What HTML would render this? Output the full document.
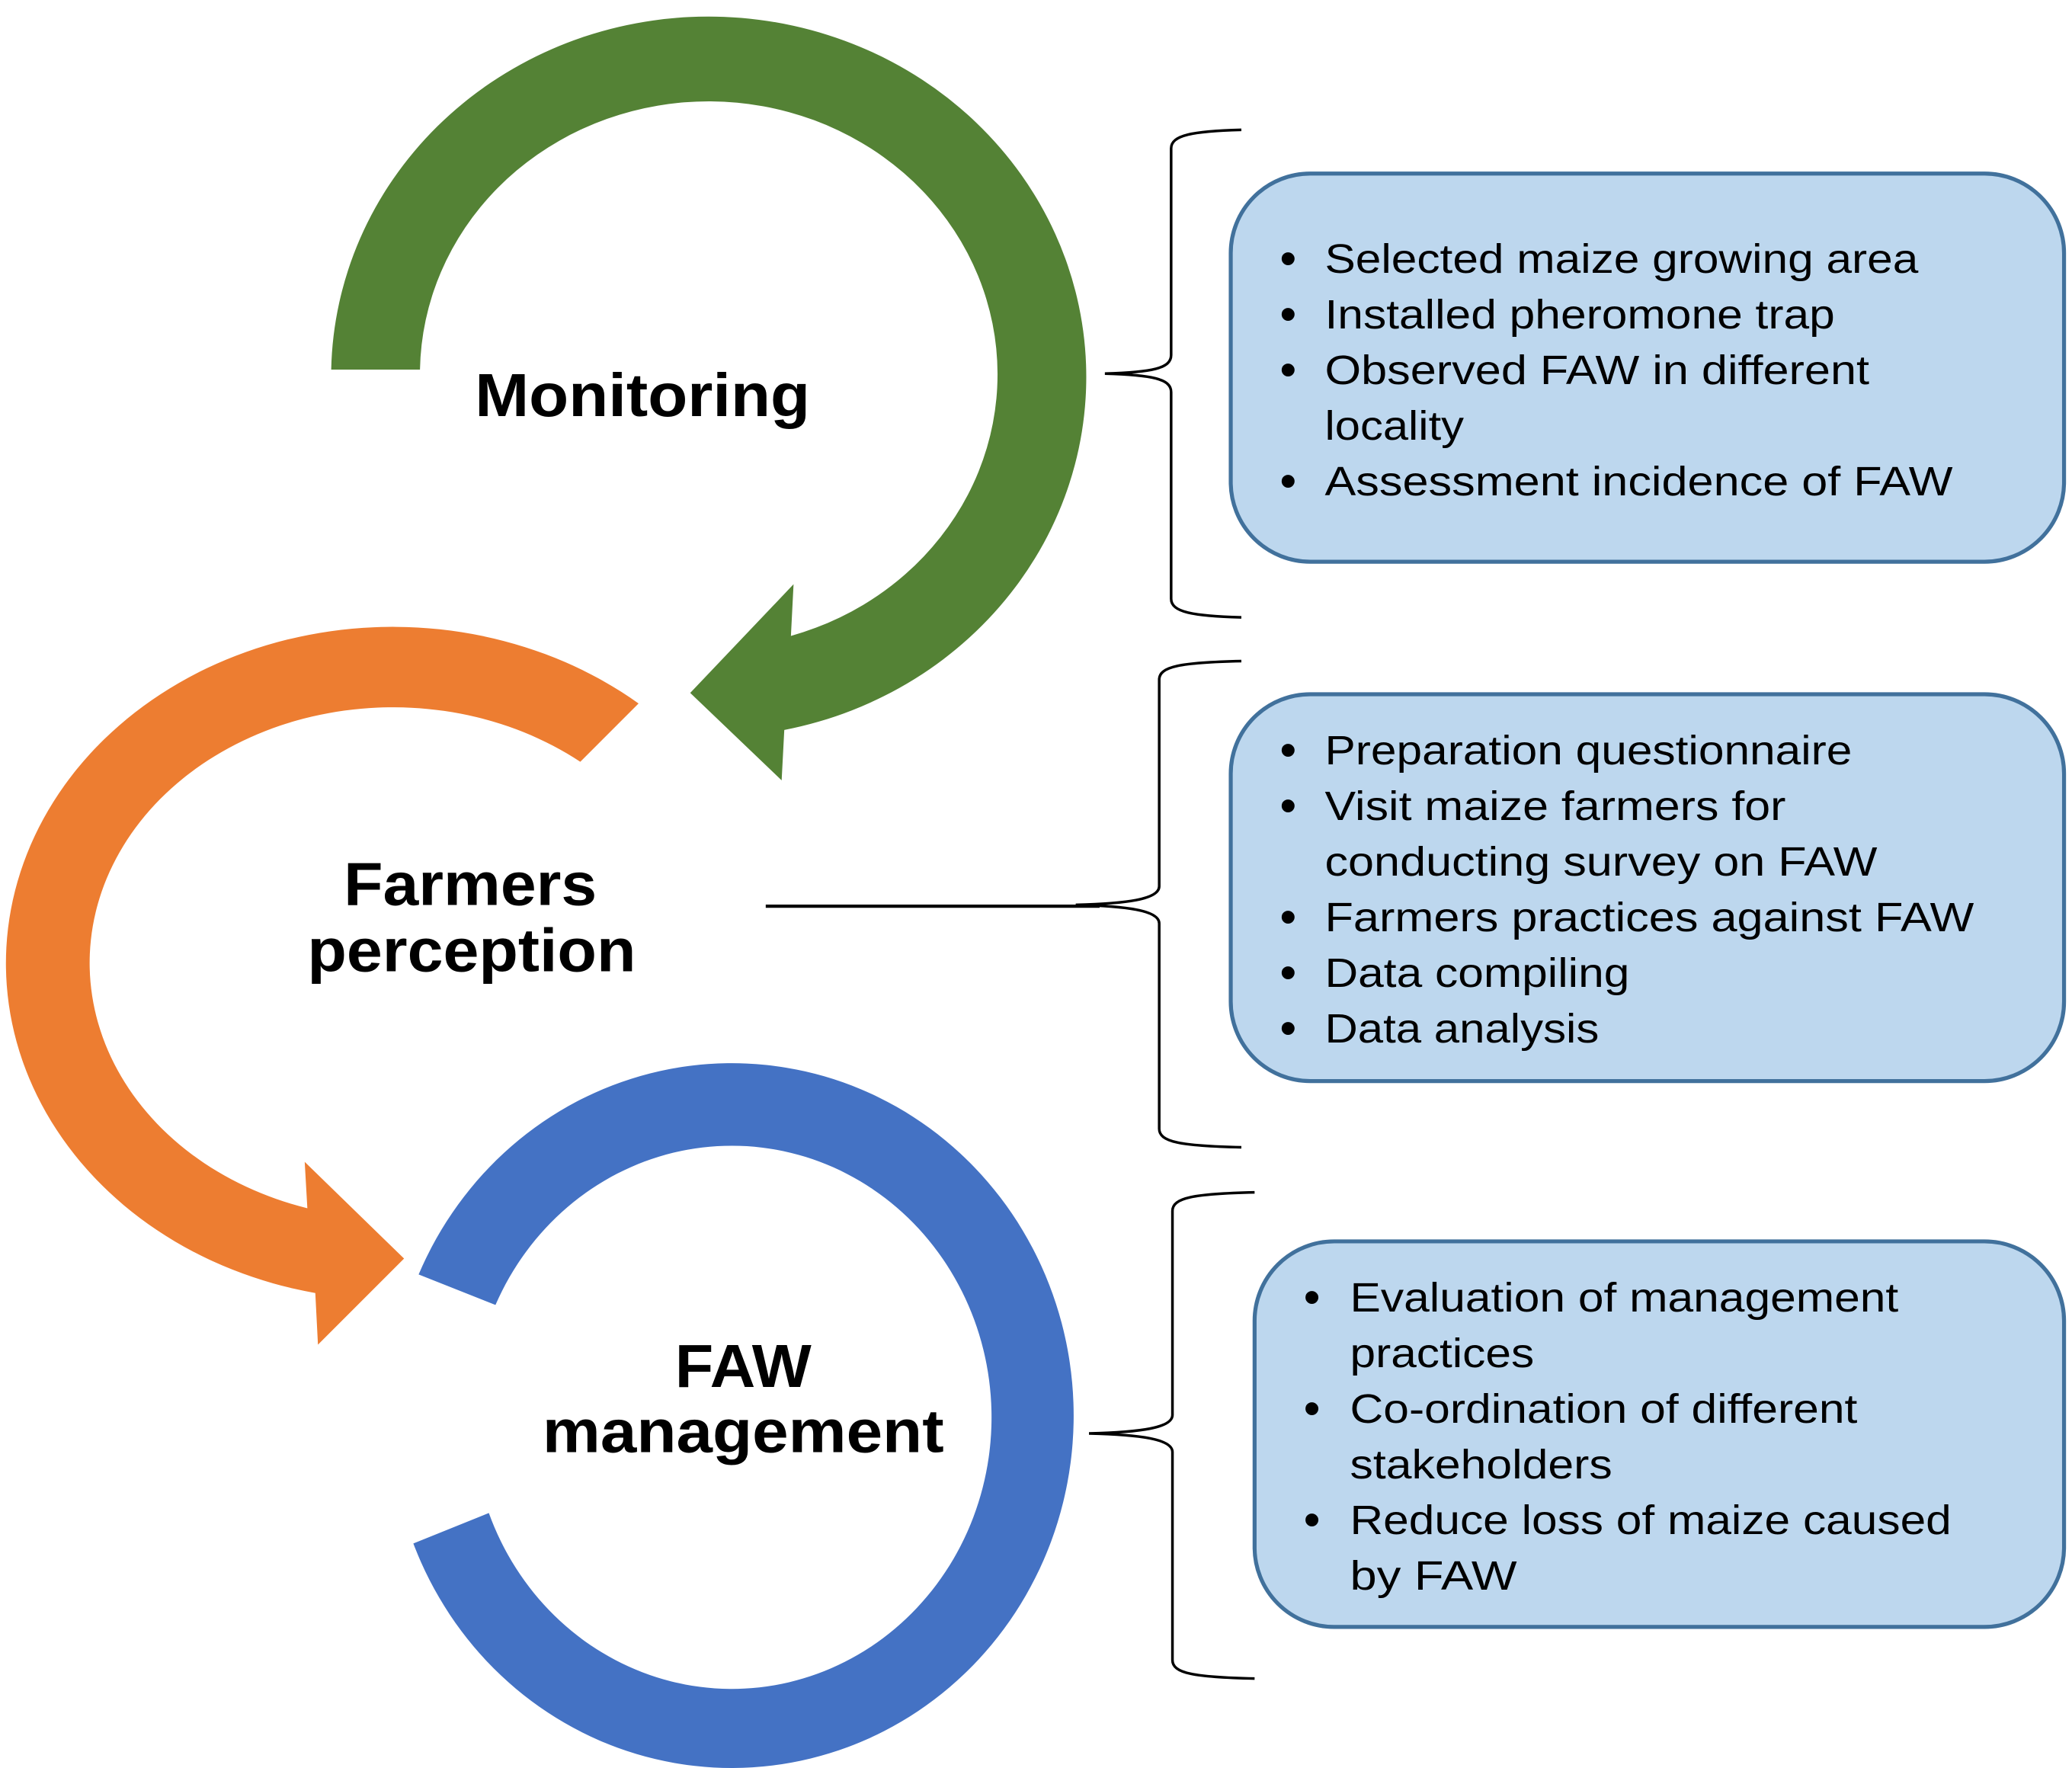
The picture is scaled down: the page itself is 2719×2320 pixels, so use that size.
<!DOCTYPE html>
<html><head><meta charset="utf-8"><style>
html,body{margin:0;padding:0;background:#fff;}
svg{display:block;}
</style></head><body>
<svg width="2719" height="2320" viewBox="0 0 1564 1334.5" xmlns="http://www.w3.org/2000/svg" preserveAspectRatio="none">
<rect width="1564" height="1335" fill="#fff"/>
<path d="M250,279 A285,272 0 1 1 592,551 L590,589 L521,523 L599,441 L597,480 A218,206 0 1 0 317,279 Z" fill="#548235"/>
<path d="M482,531 A292,254 0 1 0 238,976 L240,1015 L305,950 L230,877 L232,912 A229,193 0 1 1 438,575 Z" fill="#ED7D31"/>
<path d="M316,962 A258,266 0 1 1 312,1165 L369,1142 A196,205 0 1 0 374,985 Z" fill="#4472C4"/>

<g font-family="Liberation Sans, Arial, sans-serif" font-weight="bold" fill="#000" font-size="46" text-anchor="middle">
<text x="485" y="314" textLength="253" lengthAdjust="spacingAndGlyphs">Monitoring</text>
<text x="355" y="683" textLength="191" lengthAdjust="spacingAndGlyphs">Farmers</text>
<text x="356" y="733" textLength="248" lengthAdjust="spacingAndGlyphs">perception</text>
<text x="561" y="1047" textLength="103" lengthAdjust="spacingAndGlyphs">FAW</text>
<text x="561" y="1096" textLength="303" lengthAdjust="spacingAndGlyphs">management</text>
</g>

<line x1="578" y1="684" x2="830" y2="684" stroke="#000" stroke-width="2.5"/>

<g fill="none" stroke="#000" stroke-width="2">
<path d="M937,98 C900,99 884,102 884,112 L884,268 C884,278 870,281 834,282 C870,283 884,286 884,296 L884,452 C884,462 900,465 937,466"/>
<path d="M937,499 C891,500 875,503 875,513 L875,669 C875,679 850,682 812,683 C850,684 875,687 875,697 L875,852 C875,862 891,865 937,866"/>
<path d="M947,900 C901,901 885,904 885,914 L885,1068 C885,1078 860,1081 822,1082 C860,1083 885,1086 885,1096 L885,1253 C885,1263 901,1266 947,1267"/>
</g>

<g fill="#BDD7EE" stroke="#41719C" stroke-width="3">
<rect x="929" y="131" width="629" height="293" rx="60"/>
<rect x="929" y="524" width="629" height="292" rx="60"/>
<rect x="947" y="937" width="611" height="291" rx="60"/>
</g>

<g font-family="Liberation Sans, Arial, sans-serif" font-size="31" fill="#000">
<g font-size="36"><text x="966" y="207">•</text><text x="966" y="249">•</text><text x="966" y="291">•</text><text x="966" y="375">•</text></g>
<text x="1000" y="206" textLength="448" lengthAdjust="spacingAndGlyphs">Selected maize growing area</text>
<text x="1000" y="248" textLength="385" lengthAdjust="spacingAndGlyphs">Installed pheromone trap</text>
<text x="1000" y="290" textLength="411" lengthAdjust="spacingAndGlyphs">Observed FAW in different</text>
<text x="1000" y="332" textLength="105" lengthAdjust="spacingAndGlyphs">locality</text>
<text x="1000" y="374" textLength="474" lengthAdjust="spacingAndGlyphs">Assessment incidence of FAW</text>

<g font-size="36"><text x="966" y="578">•</text><text x="966" y="620">•</text><text x="966" y="704">•</text><text x="966" y="746">•</text><text x="966" y="788">•</text></g>
<text x="1000" y="577" textLength="398" lengthAdjust="spacingAndGlyphs">Preparation questionnaire</text>
<text x="1000" y="619" textLength="348" lengthAdjust="spacingAndGlyphs">Visit maize farmers for</text>
<text x="1000" y="661" textLength="417" lengthAdjust="spacingAndGlyphs">conducting survey on FAW</text>
<text x="1000" y="703" textLength="490" lengthAdjust="spacingAndGlyphs">Farmers practices against FAW</text>
<text x="1000" y="745" textLength="230" lengthAdjust="spacingAndGlyphs">Data compiling</text>
<text x="1000" y="787" textLength="207" lengthAdjust="spacingAndGlyphs">Data analysis</text>

<g font-size="36"><text x="984" y="991">•</text><text x="984" y="1075">•</text><text x="984" y="1159">•</text></g>
<text x="1019" y="990" textLength="414" lengthAdjust="spacingAndGlyphs">Evaluation of management</text>
<text x="1019" y="1032" textLength="139" lengthAdjust="spacingAndGlyphs">practices</text>
<text x="1019" y="1074" textLength="383" lengthAdjust="spacingAndGlyphs">Co-ordination of different</text>
<text x="1019" y="1116" textLength="198" lengthAdjust="spacingAndGlyphs">stakeholders</text>
<text x="1019" y="1158" textLength="454" lengthAdjust="spacingAndGlyphs">Reduce loss of maize caused</text>
<text x="1019" y="1200" textLength="126" lengthAdjust="spacingAndGlyphs">by FAW</text>
</g>
</svg>
</body></html>
